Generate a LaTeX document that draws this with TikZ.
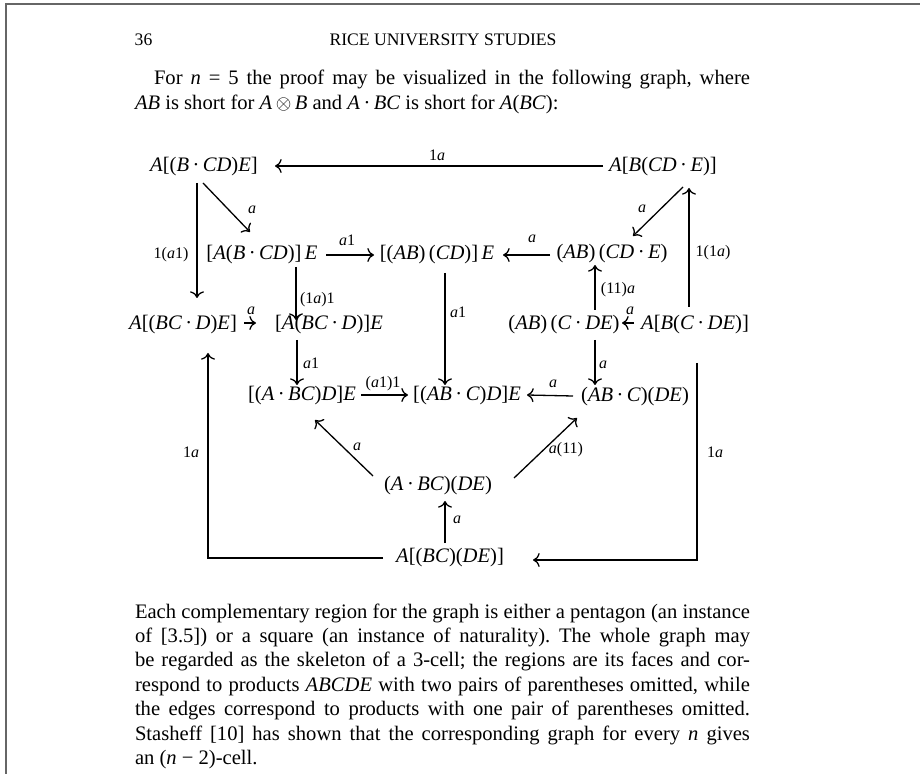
\documentclass[tikz,border=0pt]{standalone}
\usepackage{fontspec}
\setmainfont{Liberation Serif}
\usetikzlibrary{arrows.meta,calc}
\newcommand{\mv}[1]{\textit{#1}}
\newcommand{\cdt}{\,·\,}
\newcommand{\jln}[1]{\makebox[\linewidth][s]{#1}}
\frenchspacing
\begin{document}
\begin{tikzpicture}[x=0.5pt,y=-0.5pt,
  every node/.style={inner sep=0pt, outer sep=0pt, font=\fontsize{10.3}{12.2}\selectfont},
  obj/.style={text height=7pt, text depth=2.6pt},
  lbl/.style={font=\fontsize{8}{9.5}\selectfont},
  hdr/.style={font=\fontsize{8.8}{10}\selectfont},
  arr/.style={line width=0.65pt, -{To[scale=1.1]}},
  pagefr/.style={line width=1.3pt, draw=black!60}]
\useasboundingbox (0,0) rectangle (920,774);
\fill[white] (0,0) rectangle (920,774);
\draw[pagefr] (920,4) -- (6,4) -- (6,774);

% header and text
\node[hdr] (pg) at (143.5,40) {36};
\node[hdr] (hd) at (443,40) {RICE UNIVERSITY STUDIES};
\node[anchor=base west] (intro) at (135,85) {\parbox[t]{307.5pt}{%
\jln{\hspace*{9.5pt}For \mv{n} = 5 the proof may be visualized in the following graph, where}\\
\mv{AB} is short for \mv{A}\,$\otimes$\,\mv{B} and \mv{A}\cdt\mv{BC} is short for \mv{A}(\mv{BC}):}};
\node[anchor=base west] (para) at (135,618) {\parbox[t]{307.5pt}{%
\jln{Each complementary region for the graph is either a pentagon (an instance}\\
\jln{of [3.5]) or a square (an instance of naturality). The whole graph may}\\
\jln{be regarded as the skeleton of a 3-cell; the regions are its faces and cor-}\\
\jln{respond to products \mv{ABCDE} with two pairs of parentheses omitted, while}\\
\jln{the edges correspond to products with one pair of parentheses omitted.}\\
\jln{Stasheff [10] has shown that the corresponding graph for every \mv{n} gives}\\
an (\mv{n} − 2)-cell.}};

% objects
\node[obj] (n1)  at (204,167) {\mv{A}[(\mv{B}\cdt\mv{CD})\mv{E}]};
\node[obj] (n2)  at (663,167) {\mv{A}[\mv{B}(\mv{CD}\cdt\mv{E})]};
\node[obj] (n3)  at (262,255) {[\mv{A}(\mv{B}\cdt\mv{CD})]\,\mv{E}};
\node[obj] (n4)  at (437,255) {[(\mv{AB})\,(\mv{CD})]\,\mv{E}};
\node[obj] (n6)  at (612,254) {(\mv{AB})\,(\mv{CD}\cdt\mv{E})};
\node[obj] (n7)  at (183,325) {\mv{A}[(\mv{BC}\cdt\mv{D})\mv{E}]};
\node[obj] (n8)  at (329,325) {[\mv{A}(\mv{BC}\cdt\mv{D})]\mv{E}};
\node[obj] (n9)  at (564,325) {(\mv{AB})\,(\mv{C}\cdt\mv{DE})};
\node[obj] (n10) at (695,325) {\mv{A}[\mv{B}(\mv{C}\cdt\mv{DE})]};
\node[obj] (n11) at (302,396) {[(\mv{A}\cdt\mv{BC})\mv{D}]\mv{E}};
\node[obj] (n12) at (467,396) {[(\mv{AB}\cdt\mv{C})\mv{D}]\mv{E}};
\node[obj] (n13) at (635,397) {(\mv{AB}\cdt\mv{C})(\mv{DE})};
\node[obj] (n14) at (438,486) {(\mv{A}\cdt\mv{BC})(\mv{DE})};
\node[obj] (n15) at (450,558) {\mv{A}[(\mv{BC})(\mv{DE})]};

% connectors
\draw[arr] ($(n2)+(-60,-1)$) -- ($(n1)+(71,-1)$);
\draw[arr] ($(n1)+(-7,16)$) -- ($(n7)+(14,-27)$);
\draw[arr] ($(n1)+(-1,16)$) -- ($(n3)+(-12,-23)$);
\draw[arr] ($(n3)+(64,0)$) -- ($(n4)+(-63,0)$);
\draw[arr] ($(n6)+(-62,1)$) -- ($(n4)+(66,0)$);
\draw[arr] ($(n2)+(20,20)$) -- ($(n6)+(21,-18)$);
\draw[arr] ($(n10)+(-6,-18)$) -- ($(n2)+(26,21)$);
\draw[arr] ($(n3)+(34,12)$) -- ($(n8)+(-33,-5)$);
\draw[arr] ($(n4)+(8,18)$) -- ($(n12)+(-22,-11)$);
\draw[arr] ($(n9)+(31,-15)$) -- ($(n6)+(-17,11)$);
\draw[arr] ($(n7)+(61,-2)$) -- ($(n8)+(-73,-2)$);
\draw[arr] ($(n10)+(-61,-2)$) -- ($(n9)+(58,-2)$);
\draw[arr] ($(n8)+(-32,15)$) -- ($(n11)+(-5,-11)$);
\draw[arr] ($(n9)+(31,15)$) -- ($(n13)+(-40,-12)$);
\draw[arr] ($(n11)+(59,-1)$) -- ($(n12)+(-59,-1)$);
\draw[arr] ($(n13)+(-62,-1)$) -- ($(n12)+(60,-1)$);
\draw[arr] ($(n14)+(-65,-10)$) -- ($(n11)+(13,24)$);
\draw[arr] ($(n14)+(76,-8)$) -- ($(n13)+(-58,21)$);
\draw[arr] ($(n15)+(-5,-15)$) -- ($(n14)+(7,15)$);
\draw[arr] ($(n15)+(-67,0)$) -| ($(n7)+(25,28)$);
\draw[arr] ($(n10)+(2,38)$) |- ($(n15)+(83,2)$);

% labels
\node[lbl] (l1)  at (437,155) {1\mv{a}};
\node[lbl] (l2)  at (171,255) {1(\mv{a}1)};
\node[lbl] (l3)  at (252,210) {\mv{a}};
\node[lbl] (l4)  at (347,240) {\mv{a}1};
\node[lbl] (l5)  at (532,239) {\mv{a}};
\node[lbl] (l6)  at (642,209) {\mv{a}};
\node[lbl] (l7)  at (713,253) {1(1\mv{a})};
\node[lbl,anchor=west] (l8) at (300,300) {(1\mv{a})1};
\node[lbl] (l9)  at (458,312) {\mv{a}1};
\node[lbl] (l10) at (618,290) {(11)\mv{a}};
\node[lbl] (l11) at (251,311) {\mv{a}};
\node[lbl] (l12) at (630,311) {\mv{a}};
\node[lbl] (l13) at (311,363) {\mv{a}1};
\node[lbl] (l14) at (603,365) {\mv{a}};
\node[lbl] (l15) at (383,384) {(\mv{a}1)1};
\node[lbl] (l16) at (553,384) {\mv{a}};
\node[lbl] (l17) at (191,452) {1\mv{a}};
\node[lbl] (l18) at (715,452) {1\mv{a}};
\node[lbl] (l19) at (357,447) {\mv{a}};
\node[lbl] (l20) at (566,450) {\mv{a}(11)};
\node[lbl] (l21) at (457,520) {\mv{a}};
\end{tikzpicture}
\end{document}
